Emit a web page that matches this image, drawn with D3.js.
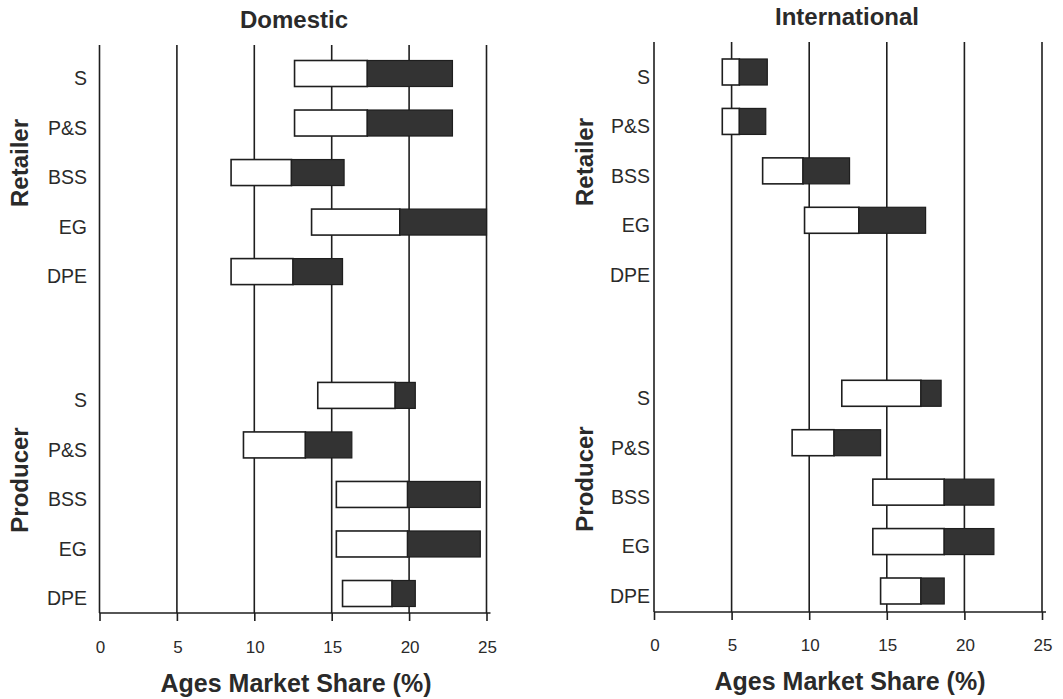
<!DOCTYPE html>
<html>
<head>
<meta charset="utf-8">
<script src="https://cdn.jsdelivr.net/npm/d3@7"></script>
<style>
  html, body { margin: 0; padding: 0; background: #ffffff; }
  svg { display: block; font-family: "Liberation Sans", Arial, Helvetica, sans-serif; }
</style>
</head>
<body>
<svg id="chart" width="1063" height="699"></svg>
<script>
// ---- data ----
const panels = ["Domestic", "International"];
const groups = ["Retailer", "Producer"];
const categories = ["S", "P&S", "BSS", "EG", "DPE"];
const xTicks = [0, 5, 10, 15, 20, 25];
const xTitle = "Ages Market Share (%)";

// Domestic
const domesticRetailerStart = [12.6, 12.6, 8.5, 13.7, 8.5];
const domesticRetailerMid   = [17.3, 17.3, 12.4, 19.4, 12.5];
const domesticRetailerEnd   = [22.8, 22.8, 15.8, 25.0, 15.7];
const domesticProducerStart = [14.1, 9.3, 15.3, 15.3, 15.7];
const domesticProducerMid   = [19.1, 13.3, 19.9, 19.9, 18.9];
const domesticProducerEnd   = [20.4, 16.3, 24.6, 24.6, 20.4];
// International
const internationalRetailerStart = [4.4, 4.4, 7.0, 9.7, null];
const internationalRetailerMid   = [5.5, 5.5, 9.6, 13.2, null];
const internationalRetailerEnd   = [7.3, 7.2, 12.6, 17.5, null];
const internationalProducerStart = [12.1, 8.9, 14.1, 14.1, 14.6];
const internationalProducerMid   = [17.2, 11.6, 18.7, 18.7, 17.2];
const internationalProducerEnd   = [18.5, 14.6, 21.9, 21.9, 18.7];

const seriesData = {
  Domestic: {
    Retailer: [domesticRetailerStart, domesticRetailerMid, domesticRetailerEnd],
    Producer: [domesticProducerStart, domesticProducerMid, domesticProducerEnd]
  },
  International: {
    Retailer: [internationalRetailerStart, internationalRetailerMid, internationalRetailerEnd],
    Producer: [internationalProducerStart, internationalProducerMid, internationalProducerEnd]
  }
};

// ---- layout ----
const layout = {
  Domestic:      { x0: 99.5, x1: 486.5, yTop: 73.5, yBot: 593.5, gridTop: 45, axisY: 613, labelX: 87,  groupX: 28,  titleX: 294, titleY: 28, tickY: 653, xTitleX: 296, xTitleY: 692, groupY: [163, 480] },
  International: { x0: 654,  x1: 1042,  yTop: 72,   yBot: 591,   gridTop: 42, axisY: 612, labelX: 650, groupX: 593, titleX: 847, titleY: 25, tickY: 651, xTitleX: 850, xTitleY: 690, groupY: [162, 479] }
};
const groupGap = 1.5;   // extra blank slots between the two groups
const barH = 26;
const ink = "#1e1e1e";
const dark = "#333333";

const svg = d3.select("#chart");

panels.forEach(panel => {
  const L = layout[panel];
  const g = svg.append("g");
  const x = d3.scaleLinear().domain([0, 25]).range([L.x0, L.x1]);
  const nPos = categories.length * 2 + groupGap;
  const y = d3.scaleLinear().domain([0, nPos - 1]).range([L.yTop, L.yBot]);
  const posOf = (gi, ci) => gi * (categories.length + groupGap) + ci;

  // gridlines
  g.selectAll("line.grid").data(xTicks).join("line")
    .attr("x1", d => x(d)).attr("x2", d => x(d))
    .attr("y1", L.gridTop).attr("y2", L.axisY)
    .attr("stroke", ink).attr("stroke-width", 1.6);

  // bottom axis
  const axis = d3.axisBottom(x).tickValues(xTicks).tickSize(8).tickPadding(0).tickFormat(d3.format("d"));
  const ax = g.append("g").attr("transform", `translate(0,${L.axisY})`).call(axis);
  ax.select(".domain").remove();
  ax.selectAll(".tick line").attr("stroke", ink).attr("stroke-width", 1.6);
  ax.selectAll(".tick text").remove();
  g.append("line")
    .attr("x1", x(0)).attr("x2", x(25) + 4)
    .attr("y1", L.axisY).attr("y2", L.axisY)
    .attr("stroke", ink).attr("stroke-width", 1.6);
  g.selectAll("text.tick").data(xTicks).join("text")
    .attr("x", d => x(d) + 1).attr("y", L.tickY)
    .attr("text-anchor", "middle").attr("font-size", 17).attr("fill", "#2a2a2a")
    .text(d => d);

  // bars
  groups.forEach((grp, gi) => {
    const [st, md, en] = seriesData[panel][grp];
    const rows = categories.map((c, ci) => ({ c, ci, s: st[ci], m: md[ci], e: en[ci] }));
    const valid = rows.filter(r => r.s != null);
    g.selectAll(null).data(valid).join("rect")
      .attr("x", r => x(r.s)).attr("width", r => x(r.m) - x(r.s))
      .attr("y", r => y(posOf(gi, r.ci)) - barH / 2).attr("height", barH)
      .attr("fill", "#ffffff").attr("stroke", ink).attr("stroke-width", 1.6);
    g.selectAll(null).data(valid).join("rect")
      .attr("x", r => x(r.m)).attr("width", r => x(r.e) - x(r.m))
      .attr("y", r => y(posOf(gi, r.ci)) - barH / 2).attr("height", barH)
      .attr("fill", dark).attr("stroke", ink).attr("stroke-width", 1.2);
    // category labels
    g.selectAll(null).data(rows).join("text")
      .attr("x", L.labelX).attr("y", r => y(posOf(gi, r.ci)) + 5)
      .attr("dy", "0.35em")
      .attr("text-anchor", "end").attr("font-size", 19.5).attr("fill", "#2a2a2a")
      .text(r => r.c);
    // group label
    g.append("text")
      .attr("transform", `translate(${L.groupX},${L.groupY[gi]}) rotate(-90)`)
      .attr("text-anchor", "middle").attr("font-size", 24).attr("font-weight", "bold").attr("fill", "#2a2a2a")
      .text(grp);
  });

  // titles
  g.append("text").attr("x", L.titleX).attr("y", L.titleY)
    .attr("text-anchor", "middle").attr("font-size", 24).attr("font-weight", "bold").attr("fill", "#2a2a2a")
    .text(panel);
  g.append("text").attr("x", L.xTitleX).attr("y", L.xTitleY)
    .attr("text-anchor", "middle").attr("font-size", 25).attr("font-weight", "bold").attr("fill", "#2a2a2a")
    .text(xTitle);
});
</script>
</body>
</html>
